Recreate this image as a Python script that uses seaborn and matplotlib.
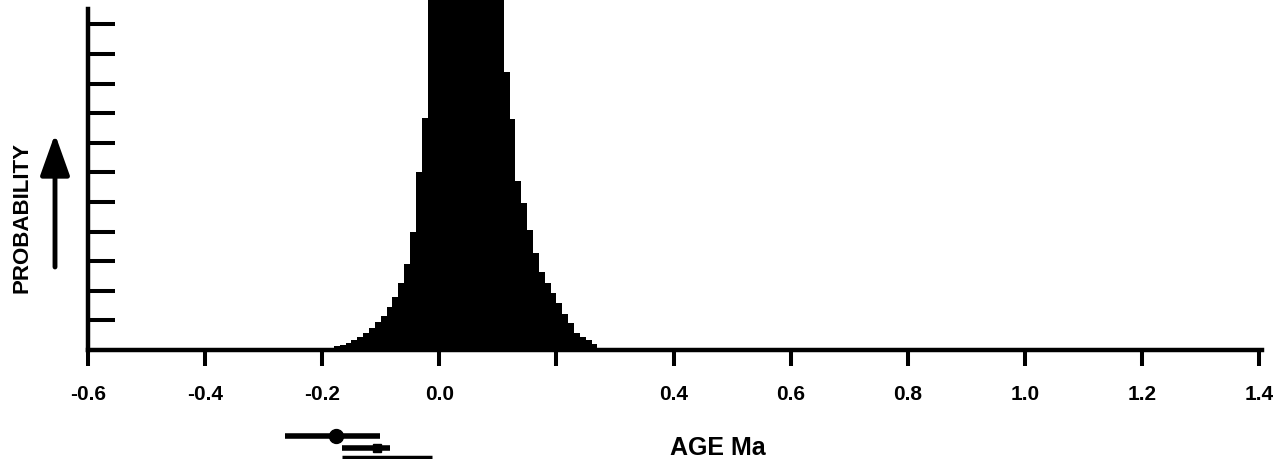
import numpy as np
import pandas as pd
import matplotlib
matplotlib.use("Agg")
import matplotlib.pyplot as plt
import seaborn as sns

# ---- data ----
bin_edges = [round(-0.20 + 0.01 * i, 2) for i in range(49)]
prob_heights = [
    0.05, 0.08, 0.12, 0.17, 0.24, 0.34, 0.44, 0.57, 0.75, 0.95,   # -0.20 .. -0.11
    1.15, 1.45, 1.80, 2.25, 2.90, 4.00, 6.00, 7.85,               # -0.10 .. -0.03
    12.5, 14.0, 15.5, 16.5, 17.0, 17.0, 16.5, 15.5, 14.5, 13.5,   # -0.02 .. 0.07
    12.8, 12.2,                                                   # 0.08, 0.09
    12.5, 9.4, 7.8, 5.7, 4.95, 4.04, 3.27, 2.63, 2.26, 1.92,      # 0.10 .. 0.19
    1.60, 1.20, 0.90, 0.57, 0.45, 0.34, 0.20, 0.08,               # 0.20 .. 0.27
]
x_ticks = [-0.6, -0.4, -0.2, 0.0, 0.2, 0.4, 0.6, 0.8, 1.0, 1.2, 1.4]
x_tick_labels = ["-0.6", "-0.4", "-0.2", "0.0", "", "0.4", "0.6", "0.8", "1.0", "1.2", "1.4"]
y_ticks = [1, 2, 3, 4, 5, 6, 7, 8, 9, 10, 11]

# individual age determinations shown below the axis
err_center = [-0.177, -0.107, -0.090]
err_low = [-0.264, -0.167, -0.167]
err_high = [-0.102, -0.085, -0.012]
err_row = [-2.9, -3.31, -3.61]

edges = np.array(bin_edges)
bin_centers = (edges[:-1] + edges[1:]) / 2
df = pd.DataFrame({"age": bin_centers, "prob": prob_heights})

sns.set_theme(style="ticks")
plt.rcParams["font.family"] = ["Liberation Sans", "DejaVu Sans"]
plt.rcParams["font.weight"] = "bold"
plt.rcParams["text.color"] = "black"
plt.rcParams["xtick.color"] = "black"
plt.rcParams["ytick.color"] = "black"

W, H = 1277, 460
fig = plt.figure(figsize=(W / 100, H / 100), dpi=100)
x0, x1 = 88, 1262
y_axis = 351
ax = fig.add_axes([x0 / W, (H - y_axis) / H, (x1 - x0) / W, y_axis / H])

sns.histplot(data=df, x="age", weights="prob", binwidth=0.01, binrange=(-0.20, 0.28),
             element="step", fill=True, color="black", alpha=1.0, linewidth=0, ax=ax)

ax.set_xlim(-0.6, 1.405)
ax.set_ylim(0, y_axis / 29.6)

for side in ("top", "right"):
    ax.spines[side].set_visible(False)
for side in ("left", "bottom"):
    ax.spines[side].set_visible(True)
    ax.spines[side].set_color("black")
    ax.spines[side].set_linewidth(3.2)
ax.spines["left"].set_bounds(0, (y_axis - 10) / 29.6)
ax.spines["bottom"].set_bounds(-0.6, 1.405)

ax.set_xticks(x_ticks)
ax.set_xticklabels(x_tick_labels, fontsize=15, fontweight="bold", color="black")
ax.set_yticks(y_ticks)
ax.set_yticklabels([])
ax.tick_params(axis="x", which="major", bottom=True, direction="out", length=11.5,
               width=2.9, pad=13, colors="black")
ax.tick_params(axis="y", which="major", left=True, direction="in", length=19.5,
               width=2.9, colors="black")
ax.set_xlabel("")
ax.set_ylabel("")

# age determinations with error bars (below the axis)
styles = [dict(marker="o", ms=10, lw=4.0), dict(marker="s", ms=6, lw=4.0), dict(marker="", ms=0, lw=2.5)]
for c, lo, hi, r, st in zip(err_center, err_low, err_high, err_row, styles):
    ax.plot([lo, hi], [r, r], color="black", lw=st["lw"], solid_capstyle="butt", clip_on=False)
    if st["marker"]:
        ax.plot([c], [r], marker=st["marker"], ms=st["ms"], color="black", clip_on=False)

fig.text(718 / W, 1 - 448 / H, "AGE Ma", fontsize=18, fontweight="bold",
         ha="center", va="center", color="black")
fig.text(22 / W, 1 - 218 / H, "PROBABILITY", fontsize=16, fontweight="bold",
         rotation=90, ha="center", va="center", color="black")
ax.annotate("", xy=(55, H - 135), xytext=(55, H - 268), xycoords="figure pixels",
            textcoords="figure pixels",
            arrowprops=dict(arrowstyle="-|>,head_length=1.4,head_width=0.5", lw=3.5,
                            color="black", mutation_scale=18, shrinkA=0, shrinkB=0))

fig.savefig("out.png", dpi=100)
